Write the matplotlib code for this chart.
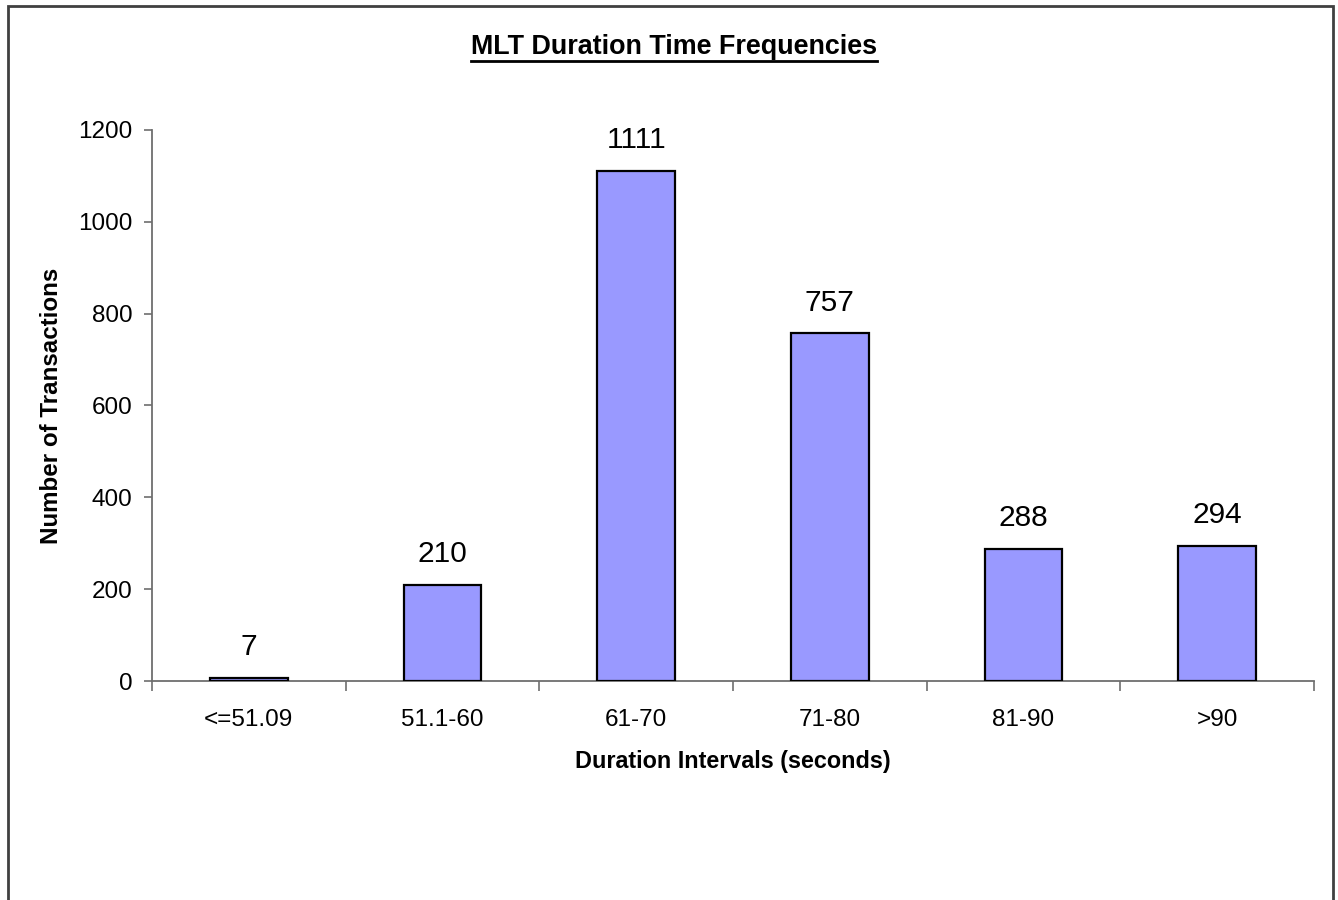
import matplotlib
matplotlib.use("Agg")
import matplotlib.pyplot as plt
from matplotlib.patches import Rectangle

categories = ["<=51.09", "51.1-60", "61-70", "71-80", "81-90", ">90"]
counts = [7, 210, 1111, 757, 288, 294]
y_ticks = [0, 200, 400, 600, 800, 1000, 1200]

plt.rcParams['font.family'] = ['Liberation Sans', 'DejaVu Sans']

W, H = 1338, 900
fig = plt.figure(figsize=(W / 100, H / 100), dpi=100)
ax = fig.add_axes([152 / W, (H - 681) / H, (1314 - 152) / W, (681 - 130) / H])

axis_col = "#6e6e6e"
x = list(range(len(categories)))
bars = ax.bar(x, counts, width=0.40, color="#9999FF", edgecolor="black", linewidth=1.6, zorder=3)

ax.set_xlim(-0.5, len(categories) - 0.5)
ax.set_ylim(0, 1200)
ax.set_yticks(y_ticks)
ax.set_yticklabels([str(v) for v in y_ticks], fontsize=17.5)
ax.set_xticks(x)
ax.set_xticklabels(categories, fontsize=17.5)
ax.tick_params(axis='x', length=0, pad=20)
ax.tick_params(axis='y', length=6, width=1.2, color=axis_col, pad=8)
# category boundary ticks
ax.set_xticks([i - 0.5 for i in range(len(categories) + 1)], minor=True)
ax.tick_params(axis='x', which='minor', length=7, width=1.2, color=axis_col, direction='out')

for s in ['top', 'right']:
    ax.spines[s].set_visible(False)
for s in ['left', 'bottom']:
    ax.spines[s].set_color(axis_col)
    ax.spines[s].set_linewidth(1.3)

for xi, v in zip(x, counts):
    ax.annotate(str(v), (xi, v), xytext=(0, 12), textcoords='offset points',
                ha='center', va='bottom', fontsize=21.5)

ax.set_xlabel("Duration Intervals (seconds)", fontsize=16.8, fontweight='bold', labelpad=14)
ax.set_ylabel("Number of Transactions", fontsize=17.4, fontweight='bold', labelpad=11)

t = fig.text(0.5035, (H - 47) / H, "MLT Duration Time Frequencies", ha='center', va='center',
             fontsize=19.4, fontweight='bold')
fig.canvas.draw()
bb = t.get_window_extent()
fig.add_artist(plt.Line2D([bb.x0 / W, bb.x1 / W], [(H - 61) / H, (H - 61) / H],
                          color='black', linewidth=2, transform=fig.transFigure))

fig.add_artist(Rectangle((8 / W, -0.2), (1333 - 8) / W, 1.2 - 6 / H, transform=fig.transFigure,
                         fill=False, edgecolor="#404040", linewidth=2, clip_on=False))

fig.savefig("out.png", dpi=100)
